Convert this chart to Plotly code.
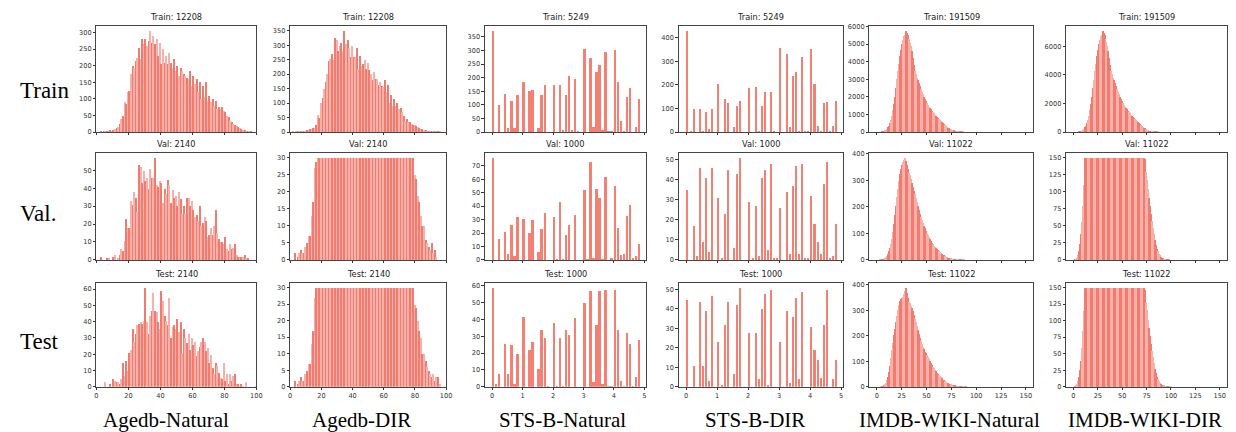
import plotly.graph_objects as go

W, H = 1236, 432

# ---------------- data ----------------
age_years = list(range(1, 101))            # Agedb bins (1-year)
sts_scores = [round(k / 10, 1) for k in range(49)]  # STS-B bins (0.1 wide)
imdb_ages = list(range(0, 101))            # IMDB-WIKI bins (1-year)

agedb_nat_train = [
    0, 0, 3, 0, 4, 2, 5, 3, 6, 5,
    8, 10, 12, 15, 25, 40, 50, 90, 85, 120,
    125, 175, 200, 195, 215, 225, 255, 220, 280, 265,
    280, 260, 275, 305, 270, 290, 265, 280, 230, 270,
    205, 250, 210, 230, 205, 240, 210, 195, 220, 185,
    200, 170, 195, 185, 175, 170, 165, 160, 185, 140,
    170, 145, 160, 120, 150, 100, 140, 105, 150, 95,
    110, 90, 100, 80, 95, 70, 75, 70, 75, 65,
    60, 50, 45, 35, 30, 25, 22, 18, 15, 12,
    10, 8, 6, 5, 4, 3, 2, 0, 0, 0]
agedb_dir_train = [
    0, 3, 0, 2, 4, 3, 5, 4, 6, 5,
    7, 8, 10, 12, 14, 15, 25, 60, 50, 100,
    120, 150, 175, 200, 245, 255, 270, 250, 325, 320,
    280, 300, 310, 280, 350, 305, 320, 290, 260, 300,
    260, 260, 290, 220, 265, 230, 235, 250, 220, 240,
    215, 200, 180, 210, 185, 185, 165, 175, 160, 155,
    180, 140, 165, 100, 130, 90, 115, 90, 100, 80,
    85, 70, 55, 40, 45, 35, 35, 30, 25, 25,
    20, 17, 15, 12, 10, 8, 7, 6, 5, 4,
    3, 3, 2, 2, 1, 1, 0, 0, 0, 0]
agedb_nat_val = [
    0, 0, 2, 0, 0, 0, 1, 1, 0, 0,
    2, 3, 0, 1, 3, 6, 5, 11, 23, 18,
    18, 33, 31, 38, 35, 27, 53, 52, 43, 50,
    44, 46, 40, 51, 46, 46, 57, 42, 41, 44,
    43, 32, 40, 37, 45, 42, 32, 39, 35, 36,
    30, 38, 34, 26, 30, 26, 35, 35, 30, 33,
    28, 24, 25, 22, 30, 19, 21, 24, 22, 13,
    14, 18, 14, 19, 28, 15, 12, 10, 10, 9,
    13, 6, 5, 9, 6, 7, 9, 3, 2, 2,
    2, 2, 3, 1, 1, 0, 0, 0, 0, 0]
agedb_nat_test = [
    0, 0, 0, 0, 0, 3, 0, 0, 2, 0,
    5, 4, 3, 3, 2, 5, 15, 7, 16, 10,
    21, 23, 36, 28, 33, 38, 39, 40, 39, 41,
    61, 40, 33, 44, 47, 58, 47, 46, 40, 36,
    59, 53, 44, 41, 38, 55, 30, 37, 38, 36,
    42, 34, 40, 21, 36, 30, 27, 33, 23, 30,
    26, 28, 19, 22, 25, 28, 30, 28, 22, 24,
    15, 20, 12, 8, 15, 13, 9, 6, 5, 15,
    4, 8, 2, 8, 4, 7, 8, 2, 2, 1,
    2, 1, 0, 3, 0, 0, 0, 0, 0, 1]
agedb_dir_val = [
    0, 0, 2, 0, 1, 2, 3, 2, 2, 4,
    5, 7, 7, 13, 17, 27, 29, 30, 30, 30,
    30, 30, 30, 30, 30, 30, 30, 30, 30, 30,
    30, 30, 30, 30, 30, 30, 30, 30, 30, 30,
    30, 30, 30, 30, 30, 30, 30, 30, 30, 30,
    30, 30, 30, 30, 30, 30, 30, 30, 30, 30,
    30, 30, 30, 30, 30, 30, 30, 30, 30, 30,
    30, 30, 30, 30, 30, 30, 30, 30, 30, 25,
    24, 19, 17, 13, 10, 10, 6, 5, 4, 3,
    5, 2, 3, 1, 0, 0, 0, 0, 0, 0]
agedb_dir_test = [
    0, 0, 2, 0, 1, 2, 3, 2, 2, 4,
    5, 7, 7, 13, 17, 27, 30, 30, 30, 30,
    30, 30, 30, 30, 30, 30, 30, 30, 30, 30,
    30, 30, 30, 30, 30, 30, 30, 30, 30, 30,
    30, 30, 30, 30, 30, 30, 30, 30, 30, 30,
    30, 30, 30, 30, 30, 30, 30, 30, 30, 30,
    30, 30, 30, 30, 30, 30, 30, 30, 30, 30,
    30, 30, 30, 30, 30, 30, 30, 30, 30, 25,
    24, 20, 17, 15, 10, 10, 8, 6, 5, 4,
    3, 4, 2, 3, 3, 1, 0, 0, 0, 0]

sts_nat_train = [372, 0, 100, 0, 140, 15, 115, 15, 138, 0,
                 183, 0, 150, 155, 0, 17, 138, 172, 0, 0,
                 172, 0, 175, 10, 138, 208, 10, 196, 5, 0,
                 305, 0, 273, 20, 220, 246, 10, 296, 5, 3,
                 302, 185, 40, 5, 130, 163, 0, 20, 123]
sts_dir_train = [430, 3, 97, 0, 97, 5, 85, 12, 97, 0,
                 203, 0, 140, 125, 0, 22, 112, 133, 0, 0,
                 187, 0, 192, 5, 112, 173, 0, 173, 3, 0,
                 360, 0, 333, 22, 238, 257, 5, 320, 5, 3,
                 353, 205, 27, 5, 125, 130, 3, 25, 133]
sts_nat_val = [76, 0, 16, 0, 21, 5, 26, 3, 32, 0,
               31, 0, 20, 30, 0, 6, 23, 35, 0, 0,
               32, 1, 43, 1, 19, 26, 0, 34, 0, 0,
               52, 1, 73, 2, 53, 46, 1, 62, 0, 2,
               55, 24, 4, 5, 33, 41, 2, 3, 12]
sts_dir_val = [35, 0, 17, 2, 46, 9, 41, 4, 46, 0,
               31, 1, 23, 45, 0, 6, 43, 51, 0, 0,
               29, 1, 27, 2, 41, 45, 5, 48, 1, 1,
               26, 0, 34, 3, 37, 47, 3, 48, 1, 1,
               32, 18, 9, 3, 38, 49, 1, 2, 18]
sts_nat_test = [59, 2, 8, 0, 26, 8, 25, 2, 20, 0,
                42, 0, 22, 27, 0, 11, 34, 29, 1, 0,
                38, 1, 29, 1, 34, 31, 0, 41, 0, 0,
                50, 0, 57, 3, 37, 57, 2, 58, 1, 1,
                58, 34, 4, 1, 32, 26, 1, 6, 28]
sts_dir_test = [45, 0, 11, 0, 44, 11, 39, 3, 47, 0,
                23, 1, 32, 44, 0, 7, 42, 51, 0, 0,
                28, 0, 28, 4, 40, 48, 1, 50, 0, 0,
                23, 0, 39, 2, 36, 46, 4, 49, 0, 0,
                31, 19, 14, 5, 32, 50, 0, 4, 14]

imdb_nat_train = [
    0, 0, 0, 2, 5, 10, 20, 35, 60, 100,
    150, 200, 280, 380, 500, 700, 950, 1250, 1600, 2000,
    2500, 3000, 3500, 3900, 4350, 4700, 5000, 5250, 5450, 5550,
    5750, 5650, 5500, 5300, 5100, 4900, 4600, 4200, 3800, 3500,
    3300, 3100, 2950, 2800, 2650, 2450, 2300, 2150, 2000, 1880,
    1750, 1650, 1550, 1450, 1380, 1300, 1220, 1150, 1080, 1000,
    930, 870, 800, 740, 680, 620, 560, 500, 450, 400,
    350, 310, 270, 230, 200, 170, 140, 120, 100, 85,
    70, 58, 48, 40, 33, 27, 22, 18, 14, 11,
    9, 7, 5, 4, 3, 2, 2, 1, 1, 1,
    0]
imdb_dir_train = [
    0, 0, 0, 3, 6, 12, 25, 45, 75, 120,
    180, 250, 350, 470, 620, 860, 1170, 1540, 1980, 2470,
    3080, 3700, 4320, 4820, 5370, 5800, 6170, 6480, 6730, 6850,
    7100, 6980, 6790, 6540, 6300, 6050, 5680, 5190, 4690, 4320,
    4080, 3830, 3640, 3460, 3270, 3030, 2840, 2660, 2470, 2320,
    2160, 2040, 1910, 1790, 1700, 1610, 1510, 1420, 1330, 1240,
    1150, 1070, 990, 910, 840, 770, 690, 620, 560, 490,
    430, 380, 330, 280, 250, 210, 170, 150, 120, 105,
    86, 72, 59, 49, 41, 33, 27, 22, 17, 14,
    11, 9, 6, 5, 4, 2, 2, 1, 1, 1,
    0]
imdb_nat_val = [
    0, 0, 0, 0, 1, 1, 2, 3, 5, 8,
    12, 17, 24, 33, 45, 60, 80, 105, 135, 170,
    205, 240, 270, 300, 325, 345, 360, 370, 378, 385,
    375, 360, 345, 330, 320, 305, 290, 275, 262, 250,
    235, 220, 205, 190, 175, 162, 150, 140, 130, 120,
    110, 102, 95, 88, 80, 72, 65, 60, 55, 50,
    45, 41, 37, 33, 30, 27, 24, 21, 18, 16,
    14, 12, 10, 9, 8, 7, 6, 5, 4, 3,
    3, 2, 2, 2, 1, 1, 1, 1, 1, 0,
    0, 0, 0, 0, 0, 0, 0, 0, 0, 0,
    0]
imdb_nat_test = [
    0, 0, 0, 0, 0, 2, 3, 5, 8, 12,
    18, 28, 42, 60, 85, 115, 145, 175, 205, 230,
    255, 280, 305, 325, 340, 345, 350, 355, 365, 380,
    390, 370, 350, 335, 330, 320, 310, 300, 285, 270,
    255, 240, 225, 210, 195, 180, 170, 160, 150, 140,
    135, 125, 118, 110, 102, 95, 88, 80, 74, 68,
    62, 57, 52, 48, 44, 40, 35, 30, 27, 24,
    21, 18, 15, 13, 12, 11, 10, 9, 9, 8,
    7, 6, 5, 5, 4, 3, 3, 2, 2, 2,
    2, 1, 1, 1, 1, 0, 0, 0, 0, 0,
    0]
imdb_dir_val = [
    0, 0, 1, 2, 4, 8, 14, 24, 38, 56,
    80, 110, 150, 150, 150, 150, 150, 150, 150, 150,
    150, 150, 150, 150, 150, 150, 150, 150, 150, 150,
    150, 150, 150, 150, 150, 150, 150, 150, 150, 150,
    150, 150, 150, 150, 150, 150, 150, 150, 150, 150,
    150, 150, 150, 150, 150, 150, 150, 150, 150, 150,
    150, 150, 150, 150, 150, 150, 150, 150, 150, 150,
    150, 150, 150, 148, 140, 130, 118, 105, 92, 80,
    68, 57, 47, 38, 30, 23, 17, 13, 9, 7,
    5, 4, 3, 2, 2, 1, 1, 1, 1, 0,
    0]
imdb_dir_test = [
    0, 0, 1, 3, 5, 9, 16, 26, 40, 60,
    85, 115, 150, 150, 150, 150, 150, 150, 150, 150,
    150, 150, 150, 150, 150, 150, 150, 150, 150, 150,
    150, 150, 150, 150, 150, 150, 150, 150, 150, 150,
    150, 150, 150, 150, 150, 150, 150, 150, 150, 150,
    150, 150, 150, 150, 150, 150, 150, 150, 150, 150,
    150, 150, 150, 150, 150, 150, 150, 150, 150, 150,
    150, 150, 150, 147, 138, 128, 116, 102, 90, 78,
    66, 55, 45, 36, 28, 21, 16, 12, 9, 7,
    5, 4, 3, 3, 2, 2, 2, 1, 1, 1,
    1]

dataset_names = ["Agedb-Natural", "Agedb-DIR", "STS-B-Natural", "STS-B-DIR",
                 "IMDB-WIKI-Natural", "IMDB-WIKI-DIR"]
split_names = ["Train", "Val", "Test"]
row_labels = ["Train", "Val.", "Test"]
split_sizes = [[12208, 12208, 5249, 5249, 191509, 191509],
               [2140, 2140, 1000, 1000, 11022, 11022],
               [2140, 2140, 1000, 1000, 11022, 11022]]
panel_values = [
    [agedb_nat_train, agedb_dir_train, sts_nat_train, sts_dir_train, imdb_nat_train, imdb_dir_train],
    [agedb_nat_val, agedb_dir_val, sts_nat_val, sts_dir_val, imdb_nat_val, imdb_dir_val],
    [agedb_nat_test, agedb_dir_test, sts_nat_test, sts_dir_test, imdb_nat_test, imdb_dir_test],
]
y_dticks = [[50, 50, 50, 100, 1000, 2000],
            [10, 5, 10, 10, 100, 25],
            [10, 5, 10, 10, 100, 25]]

# ---------------- layout geometry (pixels) ----------------
cols_px = [(87, 248), (282, 439), (478, 640), (673, 838), (865, 1030), (1063, 1225)]
rows_px = [(15, 123), (144, 253), (276, 382)]
col_label_x = [157, 354, 556, 750, 946, 1142]
row_label_y = [81, 206, 336]

DARK = "#f27b6f"
LIGHT = "#f6b2aa"
SOLID = "#f47f73"

fig = go.Figure()
layout = dict(
    width=W, height=H, margin=dict(l=0, r=0, t=0, b=0),
    paper_bgcolor="white", plot_bgcolor="white",
    showlegend=False, bargap=0, annotations=[],
)

axis_common = dict(
    showline=True, mirror=True, linecolor="#444", linewidth=0.9,
    ticks="outside", ticklen=2.5, tickwidth=0.7, tickcolor="#333",
    showgrid=False, zeroline=False,
    tickfont=dict(family="DejaVu Sans", size=6.6, color="#333"),
)

n = 0
for r in range(3):
    for c in range(6):
        n += 1
        xs = "" if n == 1 else str(n)
        vals = panel_values[r][c]
        if c < 2:
            xv = age_years
            colors = [DARK if i % 2 == 0 else LIGHT for i in range(len(vals))]
            width = 0.85
            xr = [0, 100]
            xt = [0, 20, 40, 60, 80, 100]
        elif c < 4:
            xv = sts_scores
            colors = SOLID
            width = 0.065
            xr = [-0.24, 5.05]
            xt = [0, 1, 2, 3, 4, 5]
        else:
            xv = imdb_ages
            colors = [DARK if (i // 3) % 2 == 0 else LIGHT for i in range(len(vals))]
            width = 1.0
            xr = [-7.5, 157.5]
            xt = [0, 25, 50, 75, 100, 125, 150]
        fig.add_trace(go.Bar(
            x=xv, y=vals, width=width,
            offset=0 if 2 <= c < 4 else None,
            marker=dict(color=colors, line=dict(width=0)),
            xaxis="x" + xs, yaxis="y" + xs, hoverinfo="x+y",
        ))
        x0, x1 = cols_px[c]
        y0, y1 = rows_px[r]
        ymax = max(vals) * 1.05
        dt = y_dticks[r][c]
        yt = [k * dt for k in range(int(ymax // dt) + 1)]
        layout["xaxis" + xs] = dict(
            axis_common, domain=[x0 / W, x1 / W], anchor="y" + xs,
            range=xr, tickvals=xt, showticklabels=(r == 2),
        )
        layout["yaxis" + xs] = dict(
            axis_common, domain=[1 - y1 / H, 1 - y0 / H], anchor="x" + xs,
            range=[0, ymax], tickvals=yt,
        )
        layout["annotations"].append(dict(
            text=f"{split_names[r]}: {split_sizes[r][c]}",
            x=(x0 + x1) / 2 / W, y=1 - (y0 - 1.5) / H,
            xref="paper", yref="paper", xanchor="center", yanchor="bottom",
            showarrow=False, font=dict(family="DejaVu Sans", size=8.2, color="#222"),
        ))

for r in range(3):
    layout["annotations"].append(dict(
        text=row_labels[r], x=8 / W, y=1 - row_label_y[r] / H,
        xref="paper", yref="paper", xanchor="left", yanchor="middle",
        showarrow=False, font=dict(family="Liberation Serif", size=23, color="black"),
    ))
for c in range(6):
    layout["annotations"].append(dict(
        text=dataset_names[c], x=col_label_x[c] / W, y=1 - 416 / H,
        xref="paper", yref="paper", xanchor="center", yanchor="middle",
        showarrow=False, font=dict(family="Liberation Serif", size=21, color="black"),
    ))

fig.update_layout(**layout)
fig.write_html("out.html")
